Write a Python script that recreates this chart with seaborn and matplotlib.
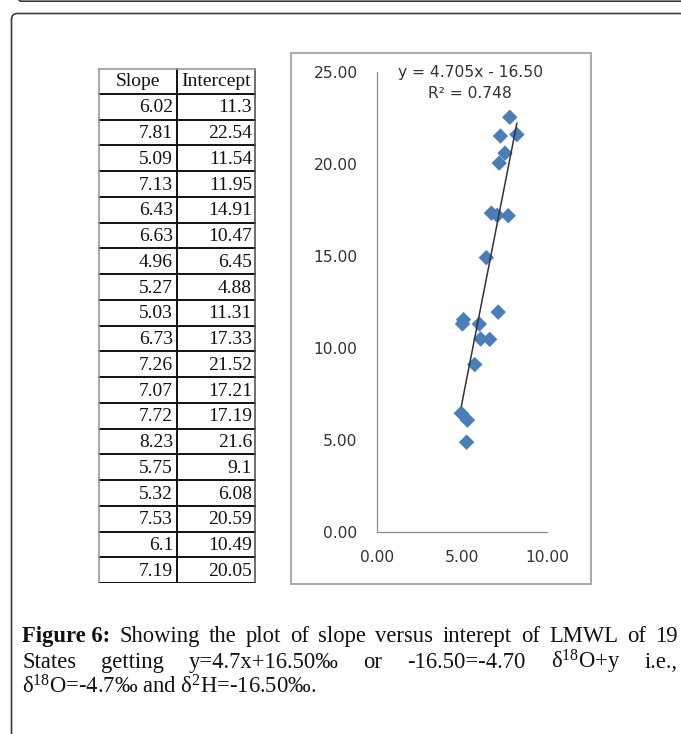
import numpy as np
import pandas as pd
import matplotlib
matplotlib.use("Agg")
import matplotlib.pyplot as plt
from matplotlib.patches import FancyBboxPatch, Rectangle
from matplotlib.transforms import IdentityTransform
from matplotlib.ticker import FormatStrFormatter
import seaborn as sns

slope = [6.02, 7.81, 5.09, 7.13, 6.43, 6.63, 4.96, 5.27, 5.03, 6.73,
         7.26, 7.07, 7.72, 8.23, 5.75, 5.32, 7.53, 6.1, 7.19]
intercept = [11.3, 22.54, 11.54, 11.95, 14.91, 10.47, 6.45, 4.88, 11.31, 17.33,
             21.52, 17.21, 17.19, 21.6, 9.1, 6.08, 20.59, 10.49, 20.05]
slope_labels = ["6.02", "7.81", "5.09", "7.13", "6.43", "6.63", "4.96", "5.27", "5.03", "6.73",
                "7.26", "7.07", "7.72", "8.23", "5.75", "5.32", "7.53", "6.1", "7.19"]
intercept_labels = ["11.3", "22.54", "11.54", "11.95", "14.91", "10.47", "6.45", "4.88", "11.31",
                    "17.33", "21.52", "17.21", "17.19", "21.6", "9.1", "6.08", "20.59", "10.49", "20.05"]
col_headers = ["Slope", "Intercept"]
xticks = [0, 5, 10]
yticks = [0, 5, 10, 15, 20, 25]
eq_text = "y = 4.705x - 16.50"
r2_text = "R² = 0.748"

df = pd.DataFrame({"Slope": slope, "Intercept": intercept})

W, H = 681, 734
sns.set_style("white")
plt.rcParams["font.family"] = ["DejaVu Sans"]
plt.rcParams["mathtext.fontset"] = "custom"
plt.rcParams["mathtext.rm"] = "Liberation Serif"
plt.rcParams["mathtext.it"] = "Liberation Serif:italic"
plt.rcParams["mathtext.bf"] = "Liberation Serif:bold"

fig = plt.figure(figsize=(W / 100, H / 100), dpi=100)
fig.patch.set_facecolor("white")


def fx(px):
    return px / W


def fy(py):
    return 1 - py / H


# page boxes
edge = "#3a3a3a"
fig.patches.append(FancyBboxPatch((15, H - 1.2), 700, 40, boxstyle="round,pad=0,rounding_size=6",
                                  transform=IdentityTransform(), fill=False, ec=edge, lw=1.2))
fig.patches.append(FancyBboxPatch((11.5, -40), 700, H - 13.5 + 40, boxstyle="round,pad=0,rounding_size=6",
                                  transform=IdentityTransform(), fill=False, ec=edge, lw=1.2))

# chart frame
fig.patches.append(Rectangle((fx(291), fy(584)), fx(300), (584 - 53) / H, transform=fig.transFigure,
                             fill=False, ec="#a8a8a8", lw=1.4))

# scatter plot
ax = fig.add_axes([fx(377), fy(532), fx(170), 460 / H])
sns.regplot(data=df, x="Slope", y="Intercept", ax=ax, ci=None, truncate=True, marker="D",
            scatter_kws=dict(s=62, color="#4a7ebb", edgecolor="none", alpha=1),
            line_kws=dict(color="#333333", lw=1.1))
ax.set_xlim(0, 10)
ax.set_ylim(0, 25)
ax.set_xticks(xticks)
ax.set_yticks(yticks)
ax.xaxis.set_major_formatter(FormatStrFormatter("%.2f"))
ax.yaxis.set_major_formatter(FormatStrFormatter("%.2f"))
ax.set_xlabel("")
ax.set_ylabel("")
for s in ["top", "right"]:
    ax.spines[s].set_visible(False)
for s in ["left", "bottom"]:
    ax.spines[s].set_color("#8c8c8c")
    ax.spines[s].set_linewidth(0.9)
ax.tick_params(axis="both", length=4, width=0.9, color="#8c8c8c", labelsize=11.2, labelcolor="#333333",
               direction="out")
ax.tick_params(axis="y", pad=10)
ax.tick_params(axis="x", pad=9)
ax.patch.set_alpha(0)
fig.text(fx(470), fy(73), eq_text, ha="center", va="center", fontsize=11.2, color="#333333")
fig.text(fx(470), fy(93), r2_text, ha="center", va="center", fontsize=11.2, color="#333333")

# table
tl, tr, tt, tb, tc = 98, 256, 68, 583, 177
tax = fig.add_axes([fx(tl), fy(tb), fx(tr - tl), (tb - tt) / H])
nrows = len(slope) + 1
tax.set_xlim(tl, tr)
tax.set_ylim(nrows, 0)
tax.axis("off")
for i in range(1, nrows + 1):
    tax.axhline(i, color="#111111", lw=1.4)
tax.axvline(tc, color="#111111", lw=1.4)
tax.axvline(tl + 0.8, color="#9a9a9a", lw=1.2)
tax.axvline(tr - 0.8, color="#555555", lw=1.2)
tax.axhline(0.02, color="#9a9a9a", lw=1.2)
tfont = dict(family="Liberation Serif", fontsize=14, va="center", color="#111111")
tax.text((tl + tc) / 2, 0.52, col_headers[0], ha="center", **tfont)
tax.text((tc + tr) / 2, 0.52, col_headers[1], ha="center", **tfont)
for i, (a, b) in enumerate(zip(slope_labels, intercept_labels)):
    tax.text(tc - 4, i + 1.55, a, ha="right", **tfont)
    tax.text(tr - 4, i + 1.55, b, ha="right", **tfont)

# caption
cap = dict(family="Liberation Serif", fontsize=16.3, color="#111111", va="baseline")
renderer = fig.canvas.get_renderer()


def justify(words, base, left=22, right=678):
    texts = [fig.text(0, fy(base), w, fontweight=fw, **cap) for w, fw in words]
    widths = [t.get_window_extent(renderer).width for t in texts]
    gap = (right - left - sum(widths)) / (len(texts) - 1)
    x = left
    for t, w in zip(texts, widths):
        t.set_x(fx(x))
        x += w + gap


line1 = [("Figure 6:", "bold")] + [(w, "normal") for w in
                                   "Showing the plot of slope versus interept of LMWL of 19".split()]
line2 = [(w, "normal") for w in
         ["States", "getting", "y=4.7x+16.50‰", "or", "-16.50=-4.70", r"δ$^{18}$O+y", "i.e.,"]]
justify(line1, 642)
justify(line2, 668)
fig.text(fx(22), fy(694), r"δ$^{18}$O=-4.7‰ and δ$^{2}$H=-16.50‰.", **cap)

fig.savefig("out.png", dpi=100, facecolor="white")
